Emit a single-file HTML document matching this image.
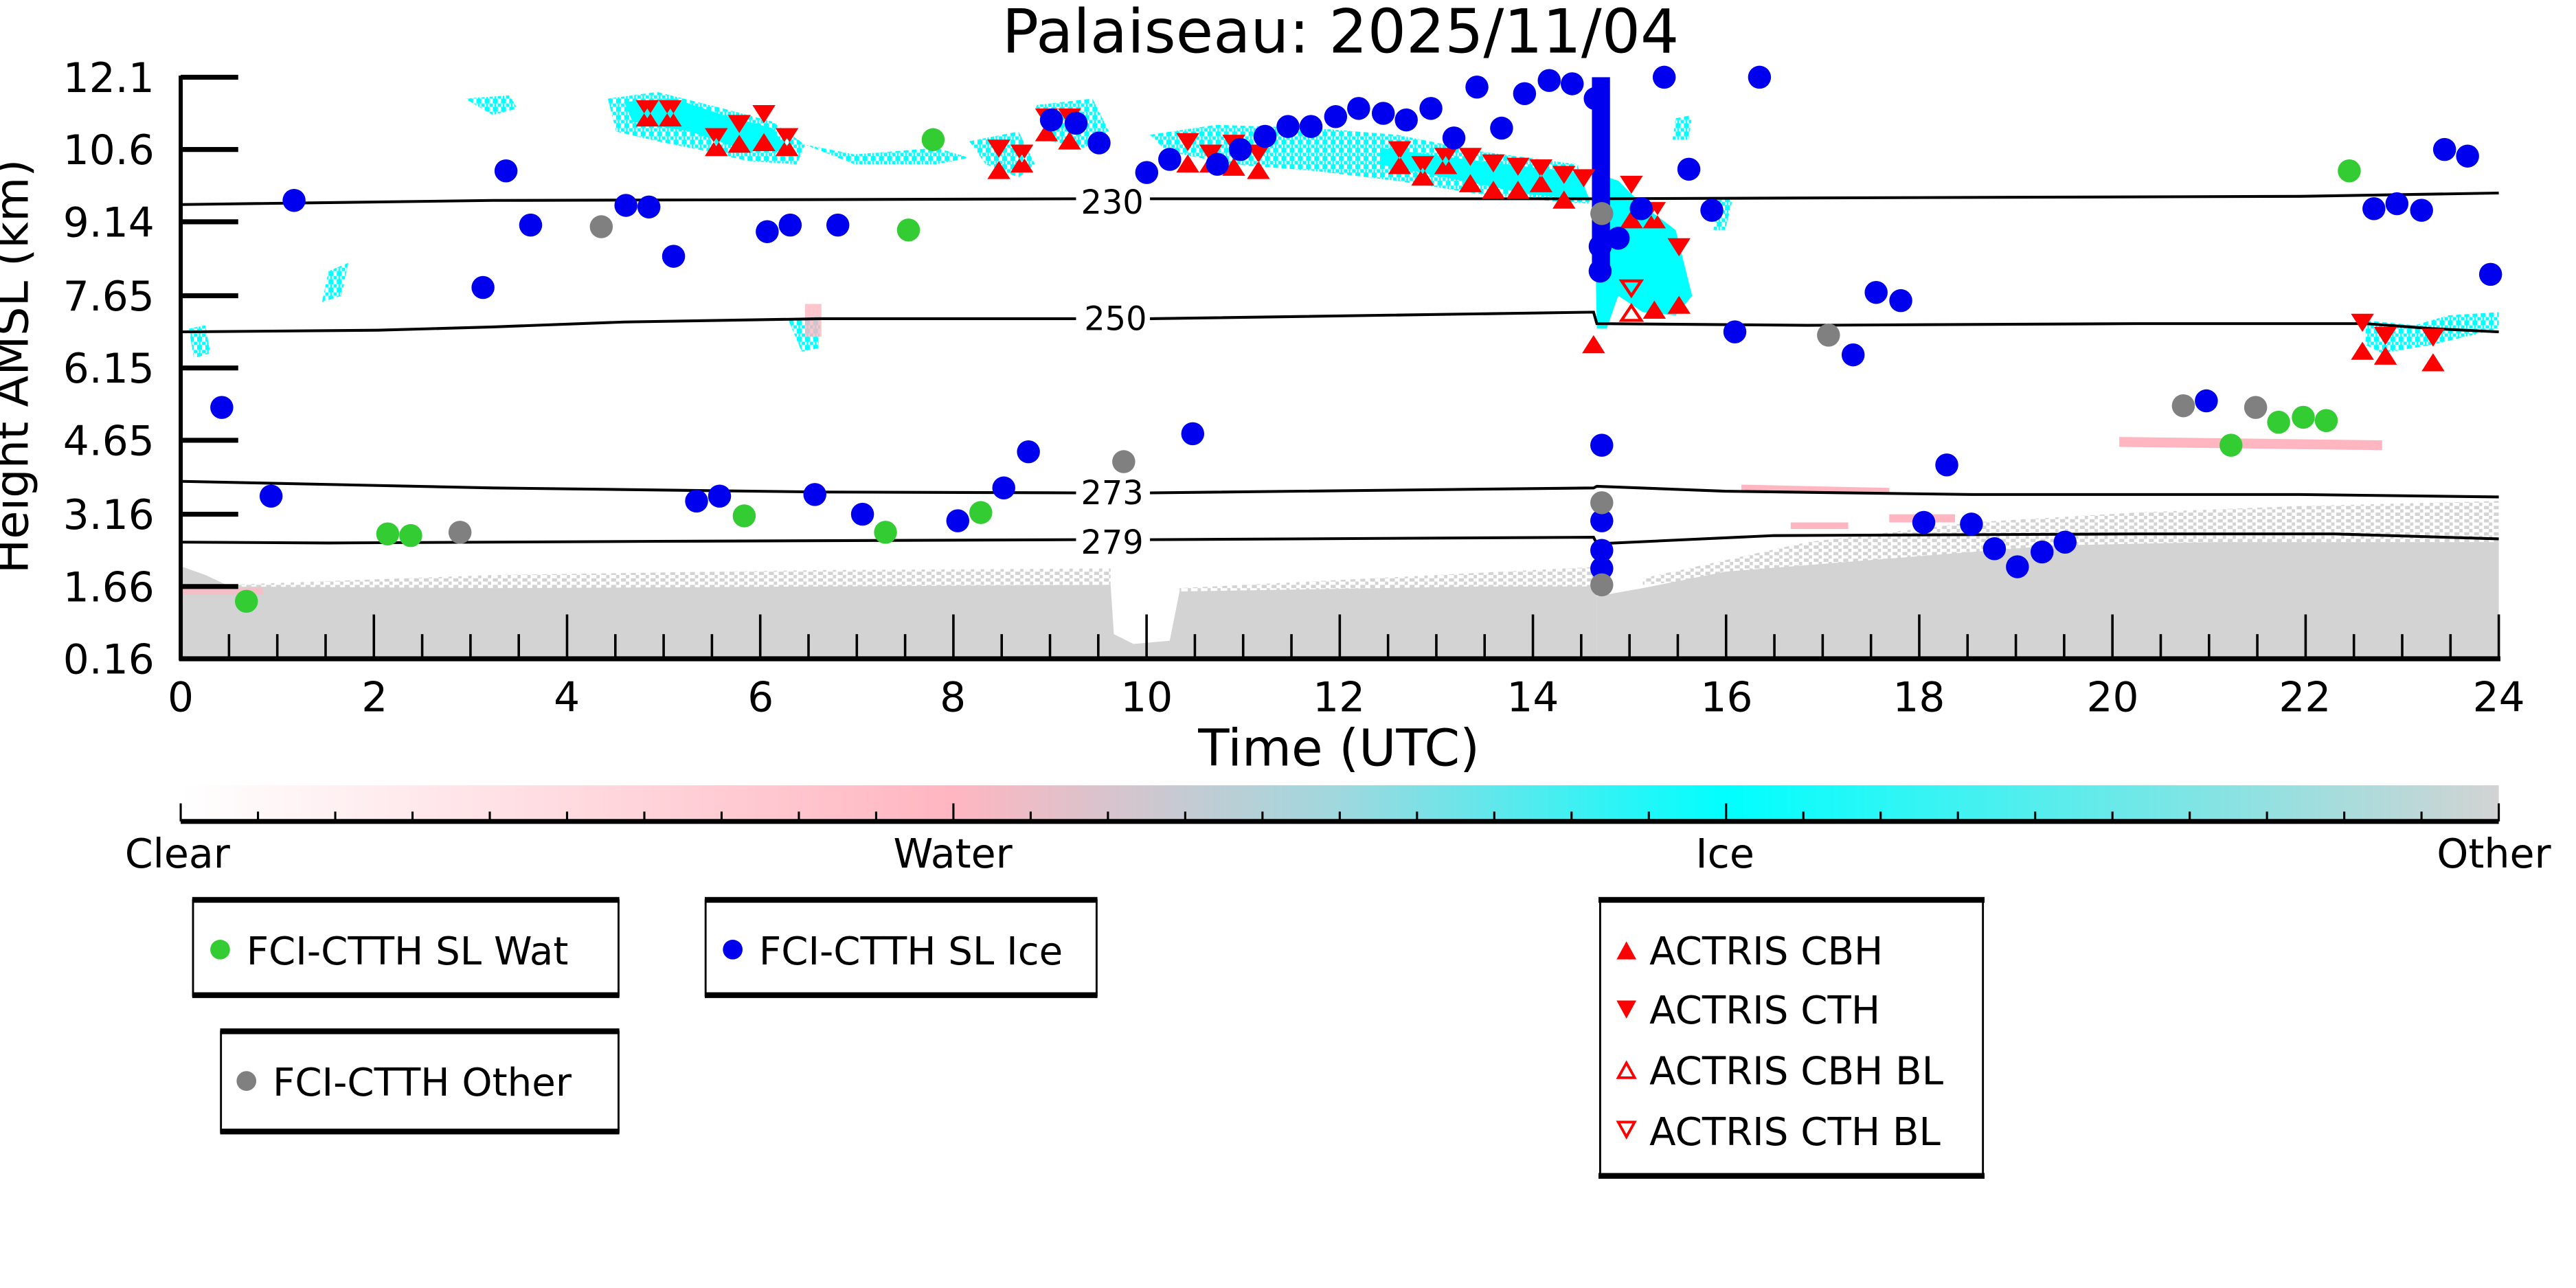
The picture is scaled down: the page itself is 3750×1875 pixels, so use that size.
<!DOCTYPE html>
<html><head><meta charset="utf-8"><style>
html,body{margin:0;padding:0;background:#fff;}
svg{display:block;}
text{font-family:"DejaVu Sans","Liberation Sans",sans-serif;fill:#000;}
</style></head><body>
<svg width="3750" height="1875" viewBox="0 0 1568 784" xmlns="http://www.w3.org/2000/svg">
<defs>
<linearGradient id="cb" x1="0" x2="1" y1="0" y2="0">
<stop offset="0" stop-color="#ffffff"/>
<stop offset="0.333" stop-color="#ffb6c1"/>
<stop offset="0.5" stop-color="#9fd8de"/>
<stop offset="0.667" stop-color="#00ffff"/>
<stop offset="1" stop-color="#d3d3d3"/>
</linearGradient>
<pattern id="spk" width="6" height="4" patternUnits="userSpaceOnUse">
<rect x="0" y="0" width="3" height="2" fill="#d3d3d3"/><rect x="3" y="2" width="2" height="2" fill="#d3d3d3"/>
</pattern>
<pattern id="cy" width="5" height="5" patternUnits="userSpaceOnUse">
<rect x="0" y="0" width="3" height="3" fill="#00ffff"/><rect x="3" y="3" width="2" height="2" fill="#00ffff"/><rect x="1" y="3" width="1" height="2" fill="#00ffff"/>
</pattern>
</defs>
<text x="816" y="32" font-size="37" text-anchor="middle">Palaiseau: 2025/11/04</text>

<path d="M111,400 L111,345 L125,350 L140,357 L300,358 L500,357 L676,356 L678,386 L690,392 L712,390 L716,370 L718,360 L900,357 L972,357 L972,400 Z" fill="#d3d3d3"/>
<path d="M111,357 L300,350 L500,347 L676,346 L676,356 L111,360 Z" fill="url(#spk)"/>
<path d="M718,358 L972,345 L972,360 L718,362 Z" fill="url(#spk)"/>
<path d="M972,400 L972,363 L1000,358 L1050,348 L1150,340 L1250,332 L1350,330 L1450,330 L1521,330 L1521,400 Z" fill="#d3d3d3"/>
<path d="M1000,352 L1100,330 L1200,318 L1300,312 L1400,308 L1521,305 L1521,332 L1250,334 L1000,356 Z" fill="url(#spk)"/>
<path d="M111,358 L160,358 L160,362 L111,362Z" fill="#ffb6c1" opacity="0.7"/>

<g fill="url(#cy)">
<path d="M370,60 L400,56 L440,66 L470,74 L490,88 L485,100 L455,98 L430,92 L400,86 L375,80 Z"/>
<path d="M490,88 L520,94 L570,90 L590,96 L570,100 L520,100 Z"/>
<path d="M283,60 L310,58 L315,66 L300,70 Z"/>
<path d="M590,86 L620,80 L630,100 L620,108 L600,100 Z"/>
<path d="M630,64 L665,60 L675,80 L660,90 L640,86 Z"/>
<path d="M700,82 L740,76 L800,78 L850,82 L900,92 L960,100 L968,124 L940,122 L900,118 L850,110 L800,104 L750,100 L710,92 Z"/>
<path d="M1440,195 L1470,198 L1490,192 L1521,190 L1521,200 L1480,210 L1450,215 L1440,210 Z"/>
<path d="M200,165 L212,160 L208,180 L196,184 Z"/>
<path d="M115,200 L125,198 L128,215 L118,218Z"/>
<path d="M480,195 L500,192 L498,212 L488,214Z"/>
<path d="M1045,122 L1055,120 L1050,140 L1043,140Z"/>
<path d="M1020,72 L1030,70 L1028,85 L1018,85Z"/>
</g>
<g fill="#00ffff">
<path d="M840,90 L900,98 L960,105 L968,122 L930,118 L870,106 L840,100Z"/>
<path d="M970,105 L985,110 L1000,125 L1020,140 L1030,180 L1020,192 L1000,190 L985,180 L978,200 L972,200 Z"/>
<path d="M380,62 L410,60 L440,70 L470,78 L480,92 L455,92 L420,80 L385,74Z"/>
</g>
<g fill="#ffb6c1">
<path d="M1290,266 L1450,268 L1450,274 L1290,272Z"/>
<path d="M1060,295 L1150,297 L1150,301 L1060,300Z"/>
<path d="M1090,318 L1125,318 L1125,322 L1090,322Z"/>
<path d="M1150,313 L1190,313 L1190,318 L1150,318Z"/>
<path d="M490,185 L500,185 L500,205 L490,205Z" opacity="0.8"/>
</g>

<g fill="none" stroke="#000" stroke-width="1.7">
<polyline points="111,124.5 300,122 500,121.5 655,121"/>
<polyline points="700,121 970,121 1100,120.5 1400,119.5 1521,117.5"/>
<polyline points="111,202 230,201 300,199 380,196 500,194 655,194"/>
<polyline points="700,194 970,190 972,197 1100,198 1300,197 1440,197 1480,200 1521,202"/>
<polyline points="111,293 300,297 500,299.5 655,300"/>
<polyline points="700,300 970,297 972,296 1050,299 1200,301 1400,301 1521,302.5"/>
<polyline points="111,330 200,330.5 400,329.5 655,328.5"/>
<polyline points="700,328.5 970,327 972,331 1080,326 1300,325 1421,325 1521,328"/>
</g>
<g font-size="20" text-anchor="middle">
<text x="677" y="130">230</text>
<text x="679" y="201">250</text>
<text x="677" y="307">273</text>
<text x="677" y="337">279</text>
</g>

<rect x="969" y="47" width="11" height="120" fill="#0000ee"/>

<g fill="#ff0000">
<path d="M387,61 h14 l-7,11z M387,77 h14 l-7,-11z"/>
<path d="M401,61 h14 l-7,11z M401,77 h14 l-7,-11z"/>
<path d="M429,78 h14 l-7,11z M429,95 h14 l-7,-11z"/>
<path d="M443,70 h14 l-7,11z M443,93 h14 l-7,-11z"/>
<path d="M458,64 h14 l-7,11z M458,92 h14 l-7,-11z"/>
<path d="M472,78 h14 l-7,11z M472,95 h14 l-7,-11z"/>
<path d="M601,85 h14 l-7,11z M601,109 h14 l-7,-11z"/>
<path d="M615,88 h14 l-7,11z M615,105 h14 l-7,-11z"/>
<path d="M630,66 h14 l-7,11z M630,86 h14 l-7,-11z"/>
<path d="M644,66 h14 l-7,11z M644,91 h14 l-7,-11z"/>
<path d="M716,81 h14 l-7,11z M716,105 h14 l-7,-11z"/>
<path d="M730,88 h14 l-7,11z M730,105 h14 l-7,-11z"/>
<path d="M744,82 h14 l-7,11z M744,107 h14 l-7,-11z"/>
<path d="M759,88 h14 l-7,11z M759,109 h14 l-7,-11z"/>
<path d="M845,86 h14 l-7,11z M845,106 h14 l-7,-11z"/>
<path d="M859,95 h14 l-7,11z M859,113 h14 l-7,-11z"/>
<path d="M873,90 h14 l-7,11z M873,106 h14 l-7,-11z"/>
<path d="M888,90 h14 l-7,11z M888,117 h14 l-7,-11z"/>
<path d="M902,94 h14 l-7,11z M902,121 h14 l-7,-11z"/>
<path d="M917,96 h14 l-7,11z M917,121 h14 l-7,-11z"/>
<path d="M931,97 h14 l-7,11z M931,117 h14 l-7,-11z"/>
<path d="M945,101 h14 l-7,11z M945,127 h14 l-7,-11z"/>
<path d="M957,103 h14 l-7,11z"/>
<path d="M963,215 h14 l-7,-11z"/>
<path d="M986,107 h14 l-7,11z M986,139 h14 l-7,-11z"/>
<path d="M1000,123 h14 l-7,11z M1000,139 h14 l-7,-11z"/>
<path d="M1015,145 h14 l-7,11z M1015,191 h14 l-7,-11z"/>
<path d="M1000,194 h14 l-7,-11z"/>
<path d="M1431,191 h14 l-7,11z M1431,219 h14 l-7,-11z"/>
<path d="M1445,199 h14 l-7,11z M1445,222 h14 l-7,-11z"/>
<path d="M1474,200 h14 l-7,11z M1474,226 h14 l-7,-11z"/>
</g>
<g fill="none" stroke="#f00" stroke-width="1.8">
<path d="M987,171 h12 l-6,9z"/>
<path d="M987,195 h12 l-6,-9z"/>
</g>

<g fill="#0000ee">
<circle cx="135" cy="248" r="7"/><circle cx="165" cy="302" r="7"/><circle cx="179" cy="122" r="7"/>
<circle cx="294" cy="175" r="7"/><circle cx="308" cy="104" r="7"/><circle cx="323" cy="137" r="7"/>
<circle cx="381" cy="125" r="7"/><circle cx="395" cy="126" r="7"/><circle cx="410" cy="156" r="7"/>
<circle cx="424" cy="305" r="7"/><circle cx="438" cy="302" r="7"/><circle cx="467" cy="141" r="7"/>
<circle cx="481" cy="137" r="7"/><circle cx="510" cy="137" r="7"/><circle cx="496" cy="301" r="7"/>
<circle cx="525" cy="313" r="7"/><circle cx="583" cy="317" r="7"/><circle cx="611" cy="297" r="7"/>
<circle cx="626" cy="275" r="7"/><circle cx="640" cy="73" r="7"/><circle cx="655" cy="75" r="7"/>
<circle cx="669" cy="87" r="7"/><circle cx="698" cy="105" r="7"/><circle cx="712" cy="97" r="7"/>
<circle cx="726" cy="264" r="7"/><circle cx="741" cy="100" r="7"/><circle cx="755" cy="91" r="7"/>
<circle cx="770" cy="83" r="7"/><circle cx="784" cy="77" r="7"/><circle cx="798" cy="77" r="7"/>
<circle cx="813" cy="71" r="7"/><circle cx="827" cy="66" r="7"/><circle cx="842" cy="69" r="7"/>
<circle cx="856" cy="73" r="7"/><circle cx="871" cy="66" r="7"/><circle cx="885" cy="84" r="7"/>
<circle cx="899" cy="53" r="7"/><circle cx="914" cy="78" r="7"/><circle cx="928" cy="57" r="7"/>
<circle cx="943" cy="49" r="7"/><circle cx="957" cy="51" r="7"/><circle cx="971" cy="60" r="7"/>
<circle cx="974" cy="150" r="7"/><circle cx="974" cy="165" r="7"/>
<circle cx="975" cy="271" r="7"/><circle cx="975" cy="317" r="7"/><circle cx="975" cy="335" r="7"/><circle cx="975" cy="346" r="7"/>
<circle cx="985" cy="145" r="7"/><circle cx="999" cy="127" r="7"/><circle cx="1013" cy="47" r="7"/>
<circle cx="1028" cy="103" r="7"/><circle cx="1042" cy="128" r="7"/><circle cx="1056" cy="202" r="7"/>
<circle cx="1071" cy="47" r="7"/><circle cx="1128" cy="216" r="7"/><circle cx="1142" cy="178" r="7"/>
<circle cx="1157" cy="183" r="7"/><circle cx="1171" cy="318" r="7"/><circle cx="1185" cy="283" r="7"/>
<circle cx="1200" cy="319" r="7"/><circle cx="1214" cy="334" r="7"/><circle cx="1228" cy="345" r="7"/>
<circle cx="1243" cy="336" r="7"/><circle cx="1257" cy="330" r="7"/><circle cx="1343" cy="244" r="7"/>
<circle cx="1445" cy="127" r="7"/><circle cx="1459" cy="124" r="7"/><circle cx="1474" cy="128" r="7"/>
<circle cx="1488" cy="91" r="7"/><circle cx="1502" cy="95" r="7"/><circle cx="1516" cy="167" r="7"/>
</g>
<g fill="#33cc33">
<circle cx="150" cy="366" r="7"/><circle cx="236" cy="325" r="7"/><circle cx="250" cy="326" r="7"/>
<circle cx="453" cy="314" r="7"/><circle cx="539" cy="324" r="7"/><circle cx="553" cy="140" r="7"/>
<circle cx="568" cy="85" r="7"/><circle cx="597" cy="312" r="7"/><circle cx="1358" cy="271" r="7"/>
<circle cx="1387" cy="257" r="7"/><circle cx="1402" cy="254" r="7"/><circle cx="1416" cy="256" r="7"/>
<circle cx="1430" cy="104" r="7"/>
</g>
<g fill="#808080">
<circle cx="280" cy="324" r="7"/><circle cx="366" cy="138" r="7"/><circle cx="684" cy="281" r="7"/>
<circle cx="975" cy="130" r="7"/><circle cx="975" cy="306" r="7"/><circle cx="975" cy="356" r="7"/>
<circle cx="1113" cy="204" r="7"/><circle cx="1329" cy="247" r="7"/><circle cx="1373" cy="248" r="7"/>
</g>

<g stroke="#000">
<line x1="110" y1="46" x2="110" y2="402" stroke-width="2.5"/>
<line x1="109" y1="401" x2="1522" y2="401" stroke-width="3"/>
</g>
<g stroke="#000" stroke-width="3">
<line x1="110" y1="47" x2="145" y2="47"/><line x1="110" y1="91" x2="145" y2="91"/>
<line x1="110" y1="135" x2="145" y2="135"/><line x1="110" y1="180" x2="145" y2="180"/>
<line x1="110" y1="224" x2="145" y2="224"/><line x1="110" y1="268" x2="145" y2="268"/>
<line x1="110" y1="313" x2="145" y2="313"/><line x1="110" y1="357" x2="145" y2="357"/>
</g>
<g stroke="#000" stroke-width="1.5" id="xt"></g>
<g font-size="25" text-anchor="end">
<text x="94" y="56">12.1</text><text x="94" y="100">10.6</text><text x="94" y="144">9.14</text>
<text x="94" y="189">7.65</text><text x="94" y="233">6.15</text><text x="94" y="277">4.65</text>
<text x="94" y="322">3.16</text><text x="94" y="366">1.66</text><text x="94" y="410">0.16</text>
</g>
<g font-size="25" text-anchor="middle">
<text x="110" y="433">0</text><text x="228" y="433">2</text><text x="345" y="433">4</text>
<text x="463" y="433">6</text><text x="580" y="433">8</text><text x="698" y="433">10</text>
<text x="815" y="433">12</text><text x="933" y="433">14</text><text x="1051" y="433">16</text>
<text x="1168" y="433">18</text><text x="1286" y="433">20</text><text x="1403" y="433">22</text>
<text x="1521" y="433">24</text>
</g>
<text x="815" y="466" font-size="31" text-anchor="middle">Time (UTC)</text>
<text transform="translate(17,223) rotate(-90)" font-size="28" text-anchor="middle">Height AMSL (km)</text>

<rect x="110" y="478" width="1411" height="22" fill="url(#cb)"/>
<line x1="110" y1="500" x2="1521" y2="500" stroke="#000" stroke-width="3"/>
<g font-size="24.5" text-anchor="middle">
<text x="108" y="528">Clear</text><text x="580" y="528">Water</text>
<text x="1050" y="528">Ice</text><text x="1518" y="528">Other</text>
</g>

<g fill="none" stroke="#000" stroke-width="1.2">
<rect x="117.5" y="548" width="259" height="58"/>
<rect x="429.5" y="548" width="238" height="58"/>
<rect x="134.5" y="628" width="242" height="61"/>
<rect x="974" y="548" width="233" height="168"/>
</g>
<g fill="#000">
<rect x="117" y="546" width="260" height="3.5"/><rect x="117" y="604" width="260" height="3.5"/>
<rect x="429" y="546" width="239" height="3.5"/><rect x="429" y="604" width="239" height="3.5"/>
<rect x="134" y="626" width="243" height="3.5"/><rect x="134" y="687" width="243" height="3.5"/>
<rect x="973" y="546" width="235" height="3.5"/><rect x="973" y="714" width="235" height="3.5"/>
</g>
<circle cx="134" cy="578" r="6" fill="#33cc33"/>
<circle cx="446" cy="578" r="6" fill="#0000ee"/>
<circle cx="150" cy="658" r="6" fill="#808080"/>
<g font-size="23.5">
<text x="150" y="587">FCI-CTTH SL Wat</text>
<text x="462" y="587">FCI-CTTH SL Ice</text>
<text x="166" y="667">FCI-CTTH Other</text>
<text x="1004" y="587">ACTRIS CBH</text>
<text x="1004" y="623">ACTRIS CTH</text>
<text x="1004" y="660">ACTRIS CBH BL</text>
<text x="1004" y="697">ACTRIS CTH BL</text>
</g>
<path d="M984,584 h12 l-6,-11z" fill="#f00"/>
<path d="M984,609 h12 l-6,11z" fill="#f00"/>
<path d="M985,656 h10 l-5,-9z" fill="none" stroke="#f00" stroke-width="1.6"/>
<path d="M985,683 h10 l-5,9z" fill="none" stroke="#f00" stroke-width="1.6"/>

<script>
(function(){
var ns="http://www.w3.org/2000/svg",g=document.getElementById('xt');
for(var i=0;i<=48;i++){var x=110+i*1411/48;var l=document.createElementNS(ns,'line');
l.setAttribute('x1',x);l.setAttribute('x2',x);l.setAttribute('y2',400);
l.setAttribute('y1',i%4==0?374:386);g.appendChild(l);}
var s=document.querySelector('svg');
for(var j=0;j<=30;j++){var x2=110+j*1411/30;var m=document.createElementNS(ns,'line');
m.setAttribute('x1',x2);m.setAttribute('x2',x2);m.setAttribute('y2',500);
m.setAttribute('y1',(j%10==0)?489:494);m.setAttribute('stroke','#000');m.setAttribute('stroke-width','1.3');s.appendChild(m);}
})();
</script>
</svg>
</body></html>
